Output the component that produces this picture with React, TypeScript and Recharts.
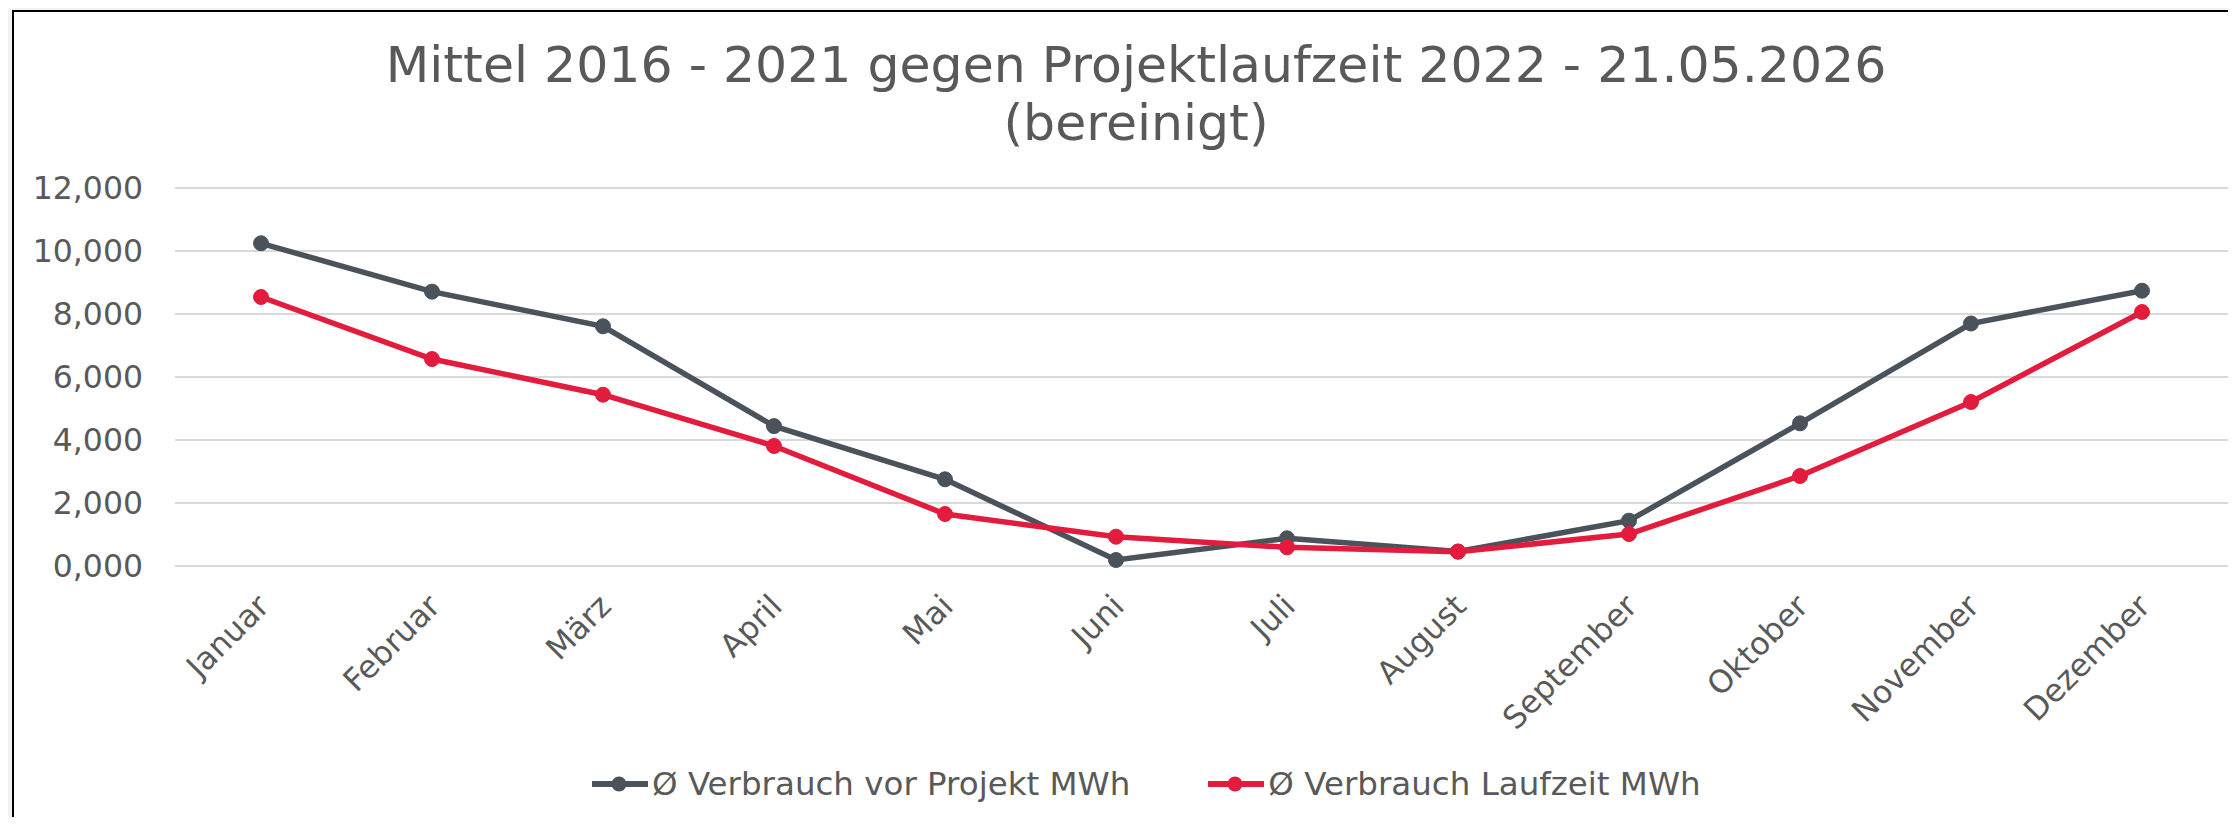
import React from "react";
import { LineChart, Line, XAxis, YAxis, CartesianGrid } from "recharts";

const months = [
    "Januar", "Februar", "März", "April", "Mai", "Juni",
    "Juli", "August", "September", "Oktober", "November", "Dezember",
];

// Ø Verbrauch vor Projekt (MWh)
const vorProjekt = [10.245, 8.71, 7.61, 4.441, 2.752, 0.19, 0.879, 0.46, 1.439, 4.529, 7.698, 8.74];
// Ø Verbrauch Laufzeit (MWh)
const laufzeit = [8.54, 6.571, 5.438, 3.81, 1.651, 0.93, 0.593, 0.454, 1.016, 2.857, 5.206, 8.063];

const yTicks = [0, 2, 4, 6, 8, 10, 12];

const titleLines = ["Mittel 2016 - 2021 gegen Projektlaufzeit 2022 - 21.05.2026", "(bereinigt)"];

const series = [
    { key: "vor", name: "Ø Verbrauch vor Projekt MWh", color: "#4a525b" },
    { key: "lauf", name: "Ø Verbrauch Laufzeit MWh", color: "#e31c3d" },
];

const data = months.map((m, i) => ({ month: m, vor: vorProjekt[i], lauf: laufzeit[i] }));

const FONT = '"DejaVu Sans", Verdana, sans-serif';
const TEXT = "#595959";

const fmt = (v: number) => v.toFixed(3).replace(".", ",");

function MonthTick({ x, y, payload }: any) {
    const ax = x + 10;
    const ay = y + 42;
    return (
        <text
            x={ax}
            y={ay}
            textAnchor="end"
            fill={TEXT}
            fontSize={31.5}
            fontFamily={FONT}
            transform={`rotate(-45 ${ax} ${ay})`}
        >
            {payload.value}
        </text>
    );
}

export default function App() {
    return (
        <div
            style={{
                position: "relative",
                width: 2236,
                height: 825,
                margin: -8,
                background: "#f2f2f2",
                overflow: "hidden",
                fontFamily: FONT,
            }}
        >
            {/* chart frame */}
            <div
                style={{
                    position: "absolute",
                    left: 12,
                    top: 10,
                    width: 2223,
                    height: 900,
                    boxSizing: "border-box",
                    background: "#fff",
                    borderLeft: "2px solid #000",
                    borderTop: "2px solid #000",
                    borderRight: "2px solid #000",
                }}
            />

            {/* title */}
            <div
                style={{
                    position: "absolute",
                    left: 136,
                    top: 36,
                    width: 2000,
                    textAlign: "center",
                    fontSize: 50.5,
                    lineHeight: "58px",
                    color: TEXT,
                    whiteSpace: "nowrap",
                }}
            >
                {titleLines.map((t) => (
                    <div key={t}>{t}</div>
                ))}
            </div>

            <div style={{ position: "absolute", left: 0, top: 0 }}>
                <LineChart
                    width={2236}
                    height={825}
                    data={data}
                    margin={{ top: 188, right: 8, left: 0, bottom: 59 }}
                >
                    <CartesianGrid vertical={false} stroke="#d9d9d9" strokeWidth={2} />
                    <XAxis
                        dataKey="month"
                        interval={0}
                        height={200}
                        axisLine={false}
                        tickLine={false}
                        tickSize={0}
                        tickMargin={0}
                        padding={{ left: 86, right: 86 }}
                        tick={<MonthTick />}
                    />
                    <YAxis
                        width={175}
                        domain={[0, 12]}
                        ticks={yTicks}
                        axisLine={false}
                        tickLine={false}
                        tickSize={0}
                        tickMargin={32}
                        tickFormatter={fmt}
                        tick={{ fontSize: 31.5, fill: TEXT, fontFamily: FONT }}
                    />
                    {series.map((s) => (
                        <Line
                            key={s.key}
                            dataKey={s.key}
                            name={s.name}
                            type="linear"
                            stroke={s.color}
                            strokeWidth={5.5}
                            dot={{ r: 7.5, fill: s.color, stroke: s.color, strokeWidth: 1 }}
                            activeDot={false}
                            isAnimationActive={false}
                        />
                    ))}
                </LineChart>
            </div>

            {/* legend */}
            <div
                style={{
                    position: "absolute",
                    left: 592,
                    top: 764,
                    display: "flex",
                    alignItems: "center",
                    gap: 78,
                    fontSize: 32.5,
                    color: TEXT,
                    whiteSpace: "nowrap",
                }}
            >
                {series.map((s) => (
                    <div key={s.key} style={{ display: "flex", alignItems: "center" }}>
                        <svg width={60} height={40} style={{ display: "block" }}>
                            <line x1={0} y1={20} x2={56} y2={20} stroke={s.color} strokeWidth={6} />
                            <circle cx={27} cy={20} r={7.5} fill={s.color} />
                        </svg>
                        <span style={{ lineHeight: "40px" }}>{s.name}</span>
                    </div>
                ))}
            </div>
        </div>
    );
}
